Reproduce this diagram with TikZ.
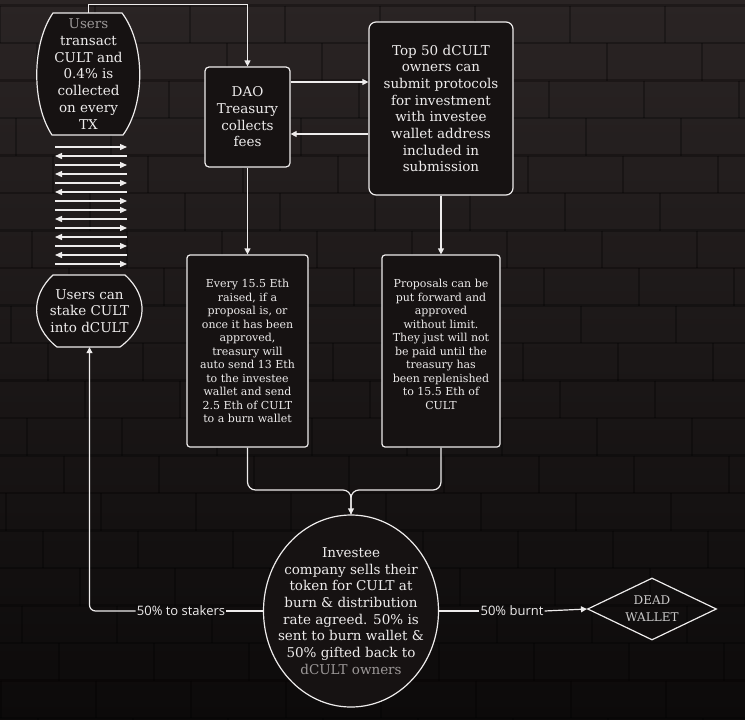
\documentclass[tikz,border=0pt]{standalone}
\usepackage{fontspec}
\setmainfont{DejaVu Serif}
\newfontfamily\lblfont{Open Sans}
\usetikzlibrary{shapes.geometric,arrows.meta,backgrounds}
\definecolor{wallTop}{HTML}{2A2424}
\definecolor{wallBot}{HTML}{0C0A0A}
\definecolor{boxfill}{HTML}{161212}
\definecolor{ink}{HTML}{EEECEC}
\definecolor{dimink}{HTML}{9C9898}

\begin{document}
\begin{tikzpicture}[x=1pt,y=-1pt,
  line/.style={draw=ink, line width=1.2pt},
  arr/.style={line, -{Triangle[length=6pt,width=6pt]}},
  tinyarr/.style={line, line width=1.3pt, -{Triangle[length=7pt,width=6pt]}},
  mortar/.style={draw=black, opacity=0.28, line width=2.5pt},
  box/.style={line, fill=boxfill, rounded corners=4pt, text=ink, align=center, inner sep=0pt},
  bigtxt/.style={font=\fontsize{13.5}{16.7}\selectfont},
  smalltxt/.style={font=\fontsize{11}{13.5}\selectfont},
  lbl/.style={text=ink, font=\lblfont\fontsize{13}{15}\selectfont, inner sep=1pt}]
\useasboundingbox (0,0) rectangle (745,720);

% brick wall
\begin{scope}[on background layer]
\shade[top color=wallTop, bottom color=wallBot] (0,0) rectangle (745,720);
\foreach \r in {0,...,19} {
  \pgfmathsetmacro\yy{5.5+37.5*\r}
  \pgfmathsetmacro\off{mod(37*\r,95)}
  \draw[mortar] (0,\yy) -- (745,\yy);
  \foreach \k in {-1,...,7}
    \draw[mortar] (\off+95*\k,\yy) -- (\off+95*\k,\yy+37.5);
}
\end{scope}

% users
\node[bigtxt, text=ink, align=center, minimum width=103pt, minimum height=122pt, inner sep=0pt] (trans) at (88.5,74)
  {\textcolor{dimink}{Users}\\transact\\CULT and\\0.4\% is\\collected\\on every\\TX};
\node[bigtxt, text=ink, align=center, minimum width=105pt, minimum height=72pt, inner sep=0pt] (stake) at (89.5,311)
  {Users can\\stake CULT\\into dCULT};
\begin{scope}[on background layer]
\draw[line, fill=boxfill, shift={(trans.center)}] (-35.5,-61) -- (33.5,-61)
  .. controls (57,-30) and (57,30) .. (34.5,61) -- (-36.5,61)
  .. controls (-57,30) and (-57,-30) .. cycle;
\draw[line, fill=boxfill, shift={(stake.center)}] (-36.5,-36) -- (35.5,-36)
  .. controls (59,-15) and (59,15) .. (30.5,36) -- (-32.5,36)
  .. controls (-59,15) and (-59,-15) .. cycle;
\end{scope}

% transfers
\foreach \d [count=\i from 0] in {1,0,1,0,1,0,1,1,0,1,0,1,0,1} {
  \pgfmathsetmacro\yy{147+9*\i}
  \ifnum\d=1
    \draw[tinyarr] (55,\yy) -- (127,\yy);
  \else
    \draw[tinyarr] (127,\yy) -- (55,\yy);
  \fi
}

% treasury and proposals
\node[box, bigtxt, minimum width=85pt, minimum height=100pt] (dao) at (247.5,117)
  {DAO\\Treasury\\collects\\fees};
\node[box, bigtxt, rounded corners=7pt, minimum width=144pt, minimum height=173pt] (top) at (441,108.5)
  {Top 50 dCULT\\owners can\\submit protocols\\for investment\\with investee\\wallet address\\included in\\submission};
\node[box, smalltxt, rounded corners=3pt, minimum width=121pt, minimum height=192pt] (every) at (247.5,351)
  {Every 15.5 Eth\\raised, if a\\proposal is, or\\once it has been\\approved,\\treasury will\\auto send 13 Eth\\to the investee\\wallet and send\\2.5 Eth of CULT\\to a burn wallet};
\node[box, smalltxt, rounded corners=3pt, minimum width=118pt, minimum height=192pt] (prop) at (441,351)
  {Proposals can be\\put forward and\\approved\\without limit.\\They just will not\\be paid until the\\treasury has\\been replenished\\to 15.5 Eth of\\CULT\\\mbox{}};

% outcome
\node[ellipse, draw=ink, line width=1.2pt, fill=boxfill, text=ink, align=center, bigtxt,
  minimum width=175pt, minimum height=192pt, inner xsep=-20pt, inner ysep=0pt] (invest) at (351,611)
  {Investee\\company sells their\\token for CULT at\\burn \& distribution\\rate agreed. 50\% is\\sent to burn wallet \&\\50\% gifted back to\\\textcolor{dimink}{dCULT owners}};
\node[diamond, draw=ink, line width=1.2pt, aspect=2.1, text=ink!85!black, align=center,
  font=\fontsize{12}{17}\selectfont, minimum width=129pt, minimum height=62pt, inner sep=0pt] (dead) at (652,609)
  {DEAD\\WALLET};
\node[lbl] (stakers) at (181,611) {50\% to stakers};
\node[lbl] (burnt) at (512,611) {50\% burnt};
\coordinate (join) at (351,490);

% flows
\draw[arr] (trans.north) -- ++(0,-8) -| (dao.north);
\draw[arr] ([yshift=35pt]dao.east) -- ([yshift=35pt]dao.east -| top.west);
\draw[arr] ([yshift=-17pt]dao.east -| top.west) -- ([yshift=-17pt]dao.east);
\draw[arr] (dao.south) -- (every.north);
\draw[arr] (top.south) -- (prop.north);
\draw[line, rounded corners=8pt] (every.south) |- (join) -- (invest.north);
\draw[arr, rounded corners=8pt] (prop.south) |- (join) -- (invest.north);
\draw[line] (invest.west) -- (stakers.east);
\draw[arr, rounded corners=6pt] (stakers.west) -| (stake.south);
\draw[line] (invest.east) -- (burnt.west);
\draw[arr] (burnt.east) -- (dead.west);
\end{tikzpicture}
\end{document}
